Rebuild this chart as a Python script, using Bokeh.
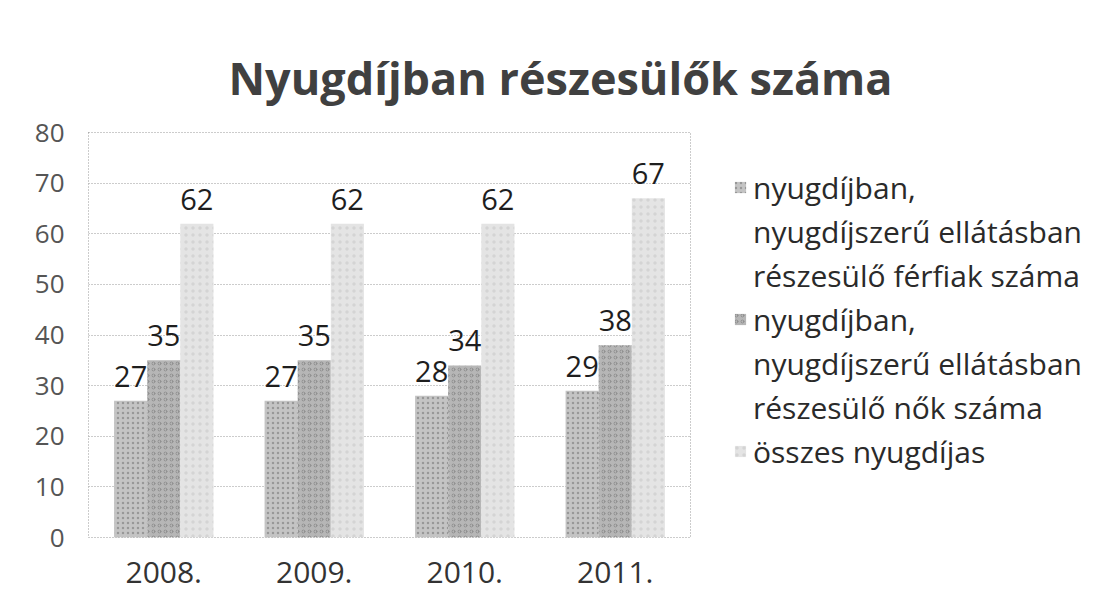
from bokeh.plotting import figure
from bokeh.models import ColumnDataSource, FactorRange, Legend, LegendItem, Title, FixedTicker
from bokeh.transform import dodge
from bokeh.embed import file_html
from bokeh.resources import INLINE
from bokeh.core.properties import value

years = ["2008.", "2009.", "2010.", "2011."]
men = [27, 27, 28, 29]
women = [35, 35, 34, 38]
total = [62, 62, 62, 67]
series_labels = [
    ["nyugdíjban,", "nyugdíjszerű ellátásban", "részesülő férfiak száma"],
    ["nyugdíjban,", "nyugdíjszerű ellátásban", "részesülő nők száma"],
    ["összes nyugdíjas"],
]
title_text = "Nyugdíjban részesülők száma"

src = ColumnDataSource(data=dict(
    years=years, men=men, women=women, total=total,
    men_t=[str(v) for v in men], women_t=[str(v) for v in women], total_t=[str(v) for v in total],
))

FONT = "Open Sans"
p = figure(width=1086, height=602, x_range=FactorRange(*years), y_range=(0, 80),
           output_backend="svg", toolbar_location=None,
           min_border_left=88, min_border_top=132, min_border_bottom=65, min_border_right=396,
           frame_width=602, frame_height=405)
p.background_fill_color = "white"
p.border_fill_color = "white"
p.outline_line_color = "#999999"
p.outline_line_dash = "1 2"
p.outline_line_width = 1

bw = 0.22
r1 = p.vbar(x=dodge("years", -bw, range=p.x_range), top="men", width=bw, source=src,
            fill_color="#c4c4c4", line_color=None,
            hatch_pattern="dot", hatch_scale=5, hatch_color="#444444", hatch_alpha=0.35)
r2 = p.vbar(x=dodge("years", 0, range=p.x_range), top="women", width=bw, source=src,
            fill_color="#b6b6b6", line_color=None,
            hatch_pattern="ring", hatch_scale=6, hatch_color="#444444", hatch_alpha=0.3)
r3 = p.vbar(x=dodge("years", bw, range=p.x_range), top="total", width=bw, source=src,
            fill_color="#e4e4e4", line_color=None,
            hatch_pattern="dot", hatch_scale=7, hatch_color="#b0b0b0", hatch_alpha=0.3)
dummy = p.scatter(x=[], y=[], size=1, fill_alpha=0, line_alpha=0)

for col, off in (("men", -bw), ("women", 0), ("total", bw)):
    p.text(x=dodge("years", off, range=p.x_range), y=col, text=col + "_t", source=src,
           text_align="center", text_baseline="bottom", y_offset=-14,
           text_font=value(FONT), text_font_size="29px", text_font_style="normal",
           text_color="#1e1e1e")

p.xgrid.grid_line_color = None
p.ygrid.grid_line_color = "#999999"
p.ygrid.grid_line_dash = "1 2"
p.yaxis.ticker = FixedTicker(ticks=list(range(0, 81, 10)))

for ax in (p.xaxis, p.yaxis):
    ax.axis_line_color = None
    ax.major_tick_line_color = None
    ax.minor_tick_line_color = None
    ax.major_label_text_font = FONT
p.yaxis.major_label_text_color = "#555555"
p.xaxis.major_label_text_color = "#333333"
p.yaxis.major_label_text_font_size = "26px"
p.yaxis.major_label_standoff = 18
p.xaxis.major_label_text_font_size = "30px"
p.xaxis.major_label_standoff = 18

items = []
for r, lines in zip((r1, r2, r3), series_labels):
    items.append(LegendItem(label=lines[0], renderers=[r]))
    for ln in lines[1:]:
        items.append(LegendItem(label=ln, renderers=[dummy]))
legend = Legend(items=items, location=(43, 64), border_line_color=None,
                background_fill_alpha=0,
                label_text_font=FONT, label_text_font_size="30px", label_text_color="#2a2a2a",
                glyph_width=14, glyph_height=14, label_height=44, spacing=0,
                margin=0, padding=0, label_standoff=6)
p.add_layout(legend, "right")

p.add_layout(Title(text=title_text, align="left", offset=140, standoff=50,
                   text_font=FONT, text_font_size="45px", text_font_style="bold",
                   text_color="#404040"), "above")

open("out.html", "w").write(file_html(p, INLINE))
